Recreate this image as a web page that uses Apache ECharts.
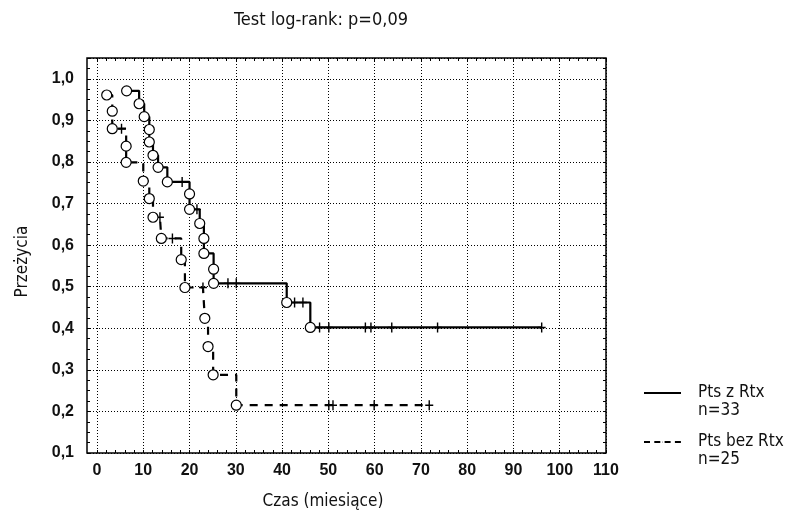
<!DOCTYPE html>
<html>
<head>
<meta charset="utf-8">
<script src="https://cdn.jsdelivr.net/npm/echarts@6/dist/echarts.min.js"></script>
<style>
  html, body { margin: 0; padding: 0; background: #fff; }
  #chart { width: 794px; height: 518px; }
</style>
</head>
<body>
<div id="chart"></div>
<script>
// Pts z Rtx (n=33): events [time, survival], censored times
const rtxEvents = [
  [6.4, 0.971], [9.1, 0.94], [10.2, 0.909], [11.3, 0.878], [11.3, 0.848],
  [12.1, 0.816], [13.2, 0.787], [15.2, 0.752], [20.0, 0.723], [20.0, 0.686],
  [22.2, 0.652], [23.1, 0.616], [23.1, 0.58], [25.2, 0.542], [25.2, 0.508],
  [41.0, 0.462], [46.1, 0.402]
];
const rtxCensored = [18.4, 21.6, 28.3, 30.1, 42.7, 44.5, 48.1, 50.1, 58.0, 59.2, 63.7, 73.6, 96.1];

// Pts bez Rtx (n=25)
const noRtxEvents = [
  [2.1, 0.961], [3.3, 0.922], [3.3, 0.88], [6.3, 0.838], [6.3, 0.799],
  [10.0, 0.754], [11.3, 0.712], [12.1, 0.667], [13.9, 0.616], [18.2, 0.565],
  [19.0, 0.498], [23.3, 0.424], [24.0, 0.356], [25.1, 0.288], [30.1, 0.215]
];
const noRtxCensored = [5.3, 13.6, 16.3, 22.9, 50.1, 51.0, 59.9, 71.8];

const groupNames = ["Pts z Rtx", "Pts bez Rtx"];
const groupN = [33, 25];

const xTicks = { min: 0, max: 110, interval: 10 };
const yTicks = { min: 0.1, max: 1.05, interval: 0.1 };

// survival value at time t (for censor marks and the step line)
function survAt(events, t) {
  let s = 1;
  events.forEach(function (e) {
    if (e[0] <= t) s = e[1];
  });
  return s;
}

function stepData(events, censored) {
  let pts = events.map((e) => [e[0], e[1], 0]);
  censored.forEach((t) => pts.push([t, survAt(events, t), 1]));
  pts.sort((a, b) => a[0] - b[0] || a[2] - b[2] || b[1] - a[1]);
  return pts.map((p) => [p[0], p[1]]);
}

function censorData(events, censored) {
  return censored.map((t) => [t, survAt(events, t)]);
}

var narrow = "'Liberation Sans Narrow', 'Arial Narrow', 'DejaVu Sans Condensed', sans-serif";
var plain = "'Liberation Sans', Arial, sans-serif";
var plusPath = "path://M3.3,0h1.4v10h-1.4z M0,4.3h8v1.4h-8z";

var chartDom = document.getElementById("chart");
var myChart = echarts.init(chartDom);
var option;

function commaLabel(v) {
  if (Math.abs(v * 10 - Math.round(v * 10)) > 1e-6) return "";
  return v.toFixed(1).replace(".", ",");
}

function legendFor(i, top, dash) {
  return {
    data: [groupNames[i]],
    left: 638,
    top: top,
    itemWidth: 37,
    itemHeight: 1,
    lineStyle: dash ? { type: dash, width: 2 } : { width: 2 },
    formatter: (name) => "\n" + name + "\nn=" + groupN[i],
    textStyle: { fontFamily: narrow, fontSize: 17, color: "#111", lineHeight: 18, padding: [0, 0, 0, 12] },
  };
}

option = {
  backgroundColor: "#fff",
  animation: false,
  title: {
    text: "Test log-rank: p=0,09",
    left: 321,
    top: 11,
    padding: 0,
    textAlign: "center",
    textStyle: { fontFamily: narrow, fontSize: 18, fontWeight: "normal", color: "#111" },
  },
  legend: [legendFor(0, 361, null), legendFor(1, 410, [6, 4.3])],
  grid: [
    // data area: x=0 .. 110
    { left: 97, right: 188, top: 58, bottom: 65, outerBoundsMode: "none" },
    // frame, starts a bit left of 0
    {
      left: 87, right: 188, top: 58, bottom: 65, outerBoundsMode: "none",
      show: true, borderColor: "#000", borderWidth: 1.5, backgroundColor: "transparent",
    },
  ],
  xAxis: [
    {
      type: "value",
      gridIndex: 0,
      min: xTicks.min,
      max: xTicks.max,
      interval: xTicks.interval,
      name: "Czas (miesiące)",
      nameLocation: "middle",
      nameGap: 40,
      nameTextStyle: { fontFamily: narrow, fontSize: 17, color: "#111", padding: [0, 57, 0, 0] },
      axisLine: { show: false },
      axisTick: { show: true, inside: true, length: 3, lineStyle: { color: "#000" } },
      minorTick: { show: true, splitNumber: 5, length: 3, lineStyle: { color: "#000" } },
      axisLabel: { fontFamily: plain, fontWeight: "bold", fontSize: 16, color: "#111", margin: 10 },
      splitLine: { show: true, lineStyle: { color: "#000", type: [1, 2], width: 1 } },
    },
    { type: "value", gridIndex: 1, min: 0, max: 1, show: false },
    {
      type: "value",
      gridIndex: 0,
      position: "top",
      min: xTicks.min,
      max: xTicks.max,
      interval: xTicks.interval,
      axisLine: { show: false },
      axisLabel: { show: false },
      axisTick: { show: true, inside: true, length: 3, lineStyle: { color: "#000" } },
      minorTick: { show: true, splitNumber: 5, length: 3, lineStyle: { color: "#000" } },
      splitLine: { show: false },
    },
  ],
  yAxis: [
    { type: "value", gridIndex: 0, min: yTicks.min, max: yTicks.max, interval: yTicks.interval, show: false },
    {
      type: "value",
      gridIndex: 1,
      min: yTicks.min,
      max: yTicks.max,
      interval: yTicks.interval,
      name: "Przeżycia",
      nameLocation: "middle",
      nameGap: 56,
      nameMoveOverlap: false,
      nameTextStyle: { fontFamily: narrow, fontSize: 17, color: "#111", padding: [0, 12, 0, 0] },
      axisLine: { show: false },
      axisTick: { show: true, inside: true, length: 3, lineStyle: { color: "#000" } },
      minorTick: { show: true, splitNumber: 4, length: 3, lineStyle: { color: "#000" } },
      axisLabel: { fontFamily: plain, fontWeight: "bold", fontSize: 16, color: "#111", margin: 13, formatter: commaLabel },
      splitLine: { show: true, lineStyle: { color: "#000", type: [1, 2], width: 1 } },
    },
    {
      type: "value",
      gridIndex: 1,
      position: "right",
      min: yTicks.min,
      max: yTicks.max,
      interval: yTicks.interval,
      axisLine: { show: false },
      axisLabel: { show: false },
      axisTick: { show: true, inside: true, length: 3, lineStyle: { color: "#000" } },
      minorTick: { show: true, splitNumber: 4, length: 3, lineStyle: { color: "#000" } },
      splitLine: { show: false },
    },
  ],
  series: [
    {
      name: groupNames[0],
      type: "line",
      step: "end",
      symbol: "none",
      xAxisIndex: 0,
      yAxisIndex: 0,
      lineStyle: { color: "#000", width: 2.2 },
      itemStyle: { color: "#000" },
      data: stepData(rtxEvents, rtxCensored),
      z: 3,
    },
    {
      name: groupNames[1],
      type: "line",
      step: "end",
      symbol: "none",
      xAxisIndex: 0,
      yAxisIndex: 0,
      lineStyle: { color: "#000", width: 2.2, type: [8, 7] },
      itemStyle: { color: "#000" },
      data: stepData(noRtxEvents, noRtxCensored),
      z: 3,
    },
    {
      name: "rtx-events",
      type: "scatter",
      symbol: "circle",
      symbolSize: 10,
      itemStyle: { color: "#fff", borderColor: "#000", borderWidth: 1.2, opacity: 1 },
      data: rtxEvents,
      z: 5,
    },
    {
      name: "nortx-events",
      type: "scatter",
      symbol: "circle",
      symbolSize: 10,
      itemStyle: { color: "#fff", borderColor: "#000", borderWidth: 1.2, opacity: 1 },
      data: noRtxEvents,
      z: 5,
    },
    {
      name: "rtx-censored",
      type: "scatter",
      symbol: plusPath,
      symbolSize: [8, 10],
      itemStyle: { color: "#000", opacity: 1 },
      data: censorData(rtxEvents, rtxCensored),
      z: 4,
    },
    {
      name: "nortx-censored",
      type: "scatter",
      symbol: plusPath,
      symbolSize: [8, 10],
      itemStyle: { color: "#000", opacity: 1 },
      data: censorData(noRtxEvents, noRtxCensored),
      z: 4,
    },
  ],
};

option && myChart.setOption(option);
</script>
</body>
</html>
